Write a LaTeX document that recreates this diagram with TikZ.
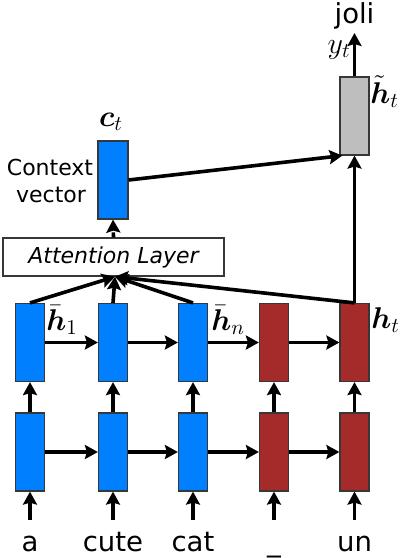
\RequirePackage{fix-cm}
\documentclass[tikz,border=0pt]{standalone}
\usepackage{amsmath}
\usepackage{bm}
\usepackage{fontspec}
\setmainfont{DejaVu Sans}
\usetikzlibrary{arrows.meta}
\definecolor{encblue}{RGB}{0,128,255}
\definecolor{decred}{RGB}{165,42,42}
\definecolor{boxline}{RGB}{55,55,55}
\definecolor{attgray}{RGB}{190,190,190}
\tikzset{
  cell/.style={draw=boxline, line width=1.2pt, minimum width=29pt, minimum height=78pt, inner sep=0pt},
  enc/.style={cell, fill=encblue},
  dec/.style={cell, fill=decred},
  arr/.style={line width=3.6pt, -{Stealth[length=13pt, width=14pt, inset=2pt]}},
  word/.style={font=\fontsize{27.5}{30}\selectfont, anchor=base, inner sep=0pt, text height=20pt, text depth=0pt},
  lab/.style={font=\fontsize{22}{24}\selectfont, anchor=base, inner sep=0pt},
  mlab/.style={font=\fontsize{15}{17}\selectfont, inner sep=0pt, scale=2, transform shape},
}
\begin{document}
\begin{tikzpicture}[x=1pt, y=-1pt]
\useasboundingbox (0,0) rectangle (400,558);
% bottom row
\node[enc] (b1) at (30,452) {};
\node[enc] (b2) at (113,452) {};
\node[enc] (b3) at (193,452) {};
\node[dec] (b4) at (274,452) {};
\node[dec] (b5) at (354.5,452) {};
% top row
\node[enc] (t1) at (30,342.5) {};
\node[enc] (t2) at (113,342.5) {};
\node[enc] (t3) at (193,342.5) {};
\node[dec] (t4) at (274,342.5) {};
\node[dec] (t5) at (354.5,342.5) {};
% context & attentional hidden
\node[enc, minimum width=30pt] (ctx) at (113,180) {};
\node[cell, fill=attgray] (ht) at (354.5,116) {};
% attention layer
\node[draw=boxline, line width=1.4pt, fill=white, minimum width=221pt, minimum height=38pt, inner sep=0pt,
      font=\fontsize{22}{24}\selectfont\itshape] (att) at (113.5,257) {Attention Layer};
% words
\node[word] (w1) at (30,551) {a};
\node[word] (w2) at (113,551) {cute};
\node[word] (w3) at (193,551) {cat};
\node[word] (w4) at (274,551) {\_};
\node[word] (w5) at (354.5,551) {un};
\node[word] (joli) at (354.5,23) {joli};
\coordinate (yend) at (354.5,33);
% labels
\node[lab] (cl1) at (50,175) {Context};
\node[lab] (cl2) at (51,202) {vector};
\node[mlab, anchor=base] (clab) at (111,126) {$\bm{c}_t$};
\node[mlab, anchor=base west] (h1lab) at (46,330) {$\bar{\bm{h}}_1$};
\node[mlab, anchor=base west] (hnlab) at (211,330) {$\bar{\bm{h}}_n$};
\node[mlab, anchor=base west] (htlab) at (371,328) {$\bm{h}_t$};
\node[mlab, anchor=base west] (httlab) at (370,103) {$\tilde{\bm{h}}_t$};
\node[mlab, anchor=base east] (ylab) at (351,53) {$y_t$};
% input arrows
\foreach \i in {1,...,5} {
  \draw[arr] ([yshift=11pt]w\i.north) -- (b\i.south);
  \draw[arr] (b\i.north) -- (t\i.south);
}
% recurrent arrows
\foreach \i/\j in {1/2,2/3,3/4,4/5} {
  \draw[arr] (b\i.east) -- (b\j.west);
  \draw[arr] (t\i.east) -- (t\j.west);
}
% attention inputs
\foreach \i in {1,2,3,5} {
  \draw[arr] (t\i.north) -- ([xshift=1.5pt]att.south);
}
\draw[arr, dash pattern=on 5pt off 4pt] (att.north) -- (ctx.south);
\draw[arr] (ctx.east) -- ([xshift=3pt]ht.south west);
\draw[arr] (t5.north) -- (ht.south);
\draw[arr] (ht.north) -- (yend);
\end{tikzpicture}
\end{document}
